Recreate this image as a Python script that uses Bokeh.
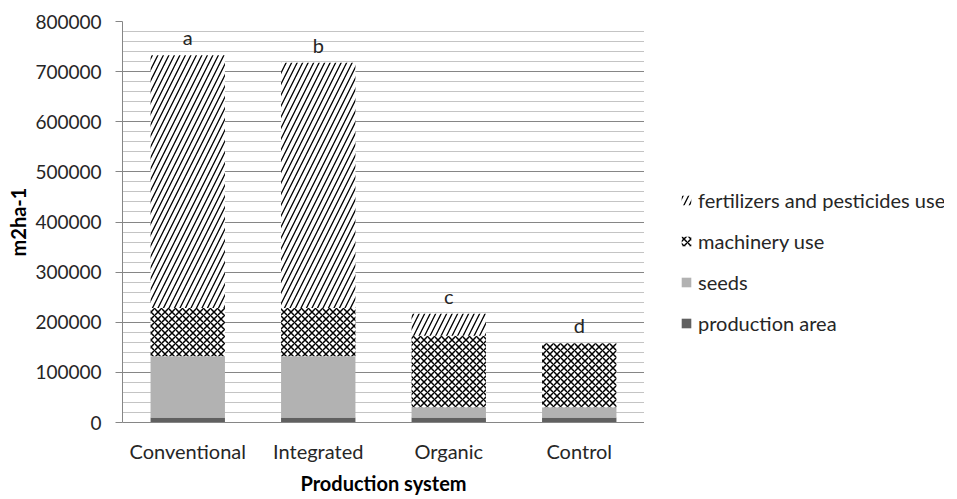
from bokeh.plotting import figure
from bokeh.layouts import row
from bokeh.models import ColumnDataSource, Legend, LegendItem, SingleIntervalTicker, Range1d
from bokeh.core.properties import value
from bokeh.embed import file_html
from bokeh.resources import INLINE

categories = ["Conventional", "Integrated", "Organic", "Control"]
production_area = [10000, 10000, 10000, 10000]
seeds = [122000, 122000, 20500, 20500]
machinery_use = [96500, 96500, 142800, 127500]
fertilizers_pesticides = [504000, 489000, 43500, 0]
letters = ["a", "b", "c", "d"]

labels = ["production area", "seeds", "machinery use", "fertilizers and pesticides use"]

top_pa = production_area
top_seeds = [a + b for a, b in zip(top_pa, seeds)]
top_mach = [a + b for a, b in zip(top_seeds, machinery_use)]
totals = [a + b for a, b in zip(top_mach, fertilizers_pesticides)]

source = ColumnDataSource(dict(
    cat=categories, tpa=top_pa, ts=top_seeds, tm=top_mach, total=totals, letter=letters,
))

FONT = "Lato"
TXT = "#262626"
AX = "#868686"
FS = "20px"
H = 498

STYLES = [
    dict(fill_color="#606060"),
    dict(fill_color="#b2b2b2"),
    dict(fill_color="white", hatch_pattern="diagonal_cross", hatch_color="black",
         hatch_weight=1.5, hatch_scale=7),
    dict(fill_color="white", hatch_pattern="/", hatch_color="black",
         hatch_weight=1.3, hatch_scale=11),
]

p = figure(x_range=categories, y_range=Range1d(0, 800000),
           width=644, height=H,
           min_border_left=122, min_border_top=21, min_border_bottom=76, min_border_right=0,
           output_backend="svg", toolbar_location=None)

common = dict(x="cat", width=0.57, source=source, line_color=None)
p.vbar(bottom=0, top="tpa", **common, **STYLES[0])
p.vbar(bottom="tpa", top="ts", **common, **STYLES[1])
p.vbar(bottom="ts", top="tm", **common, **STYLES[2])
p.vbar(bottom="tm", top="total", **common, **STYLES[3])

p.text(x="cat", y="total", text="letter", source=source, text_align="center",
       text_baseline="bottom", y_offset=-6, text_font=value(FONT),
       text_font_size=FS, text_color=TXT)

p.yaxis.ticker = SingleIntervalTicker(interval=100000, num_minor_ticks=5)
p.yaxis.formatter.use_scientific = False
p.yaxis.axis_label = "m2ha-1"
p.xaxis.axis_label = "Production system"
for ax in [p.xaxis, p.yaxis]:
    ax.axis_line_color = AX
    ax.major_tick_line_color = AX
    ax.minor_tick_line_color = None
    ax.major_label_text_font = FONT
    ax.major_label_text_font_size = FS
    ax.major_label_text_color = TXT
    ax.axis_label_text_font = FONT
    ax.axis_label_text_font_size = FS
    ax.axis_label_text_font_style = "bold"
    ax.axis_label_text_color = "black"
p.yaxis.major_label_text_font_size = "19px"
p.yaxis.major_tick_in = 0
p.yaxis.major_tick_out = 7
p.yaxis.major_label_standoff = 14
p.yaxis.axis_label_standoff = 2
p.xaxis.major_tick_in = 0
p.xaxis.major_tick_out = 0
p.xaxis.major_label_standoff = 16
p.xaxis.axis_label_standoff = 5

p.xgrid.grid_line_color = None
p.ygrid.grid_line_color = AX
p.ygrid.minor_grid_line_color = "#c4c4c4"
p.outline_line_color = None
p.x_range.range_padding = 0

# legend panel
lg = figure(width=300, height=H, x_range=Range1d(0, 1), y_range=Range1d(0, 1),
            x_axis_location=None, y_axis_location=None,
            min_border=0, output_backend="svg", toolbar_location=None)
lg.grid.visible = False
lg.outline_line_color = None
rs = []
for st in STYLES:
    rs.append(lg.vbar(x=[0.5], bottom=[0], top=[0], width=0.0, line_color=None, **st))
items = [LegendItem(label=labels[i], renderers=[rs[i]]) for i in [3, 2, 1, 0]]
legend = Legend(items=items, location=(36, 87), orientation="vertical",
                glyph_width=12, glyph_height=12, label_height=20, spacing=17,
                padding=0, margin=0, label_standoff=6,
                label_text_font=FONT, label_text_font_size=FS, label_text_color=TXT,
                border_line_color=None, background_fill_alpha=0)
lg.add_layout(legend, "center")

open("out.html", "w").write(file_html(row(p, lg), INLINE))
